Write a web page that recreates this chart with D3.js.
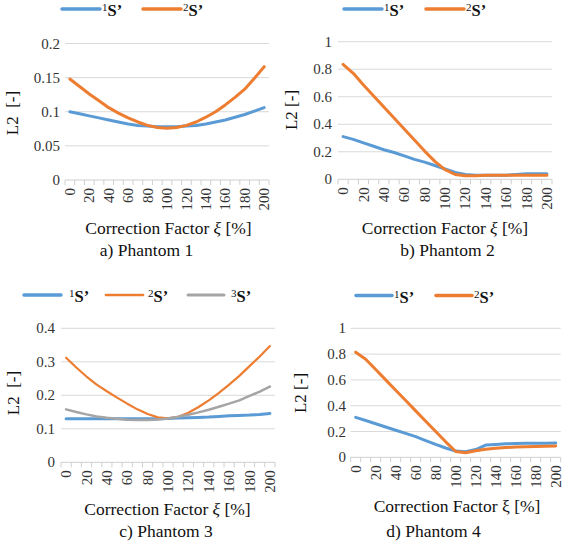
<!DOCTYPE html>
<html><head><meta charset="utf-8">
<script src="https://cdn.jsdelivr.net/npm/d3@7"></script>
<style>
html,body{margin:0;padding:0;background:#fff;}
svg{display:block;}
svg text{font-family:"Liberation Serif","Times New Roman",serif;}
</style></head>
<body>
<svg id="chart" width="568" height="549"></svg>
<script>
// ---- data ----
const xi = [0,10,20,30,40,50,60,70,80,90,100,110,120,130,140,150,160,170,180,190,200];
const xLabels = ["0","20","40","60","80","100","120","140","160","180","200"];

const p1_s1 = [0.100,0.097,0.094,0.091,0.088,0.085,0.082,0.080,0.079,0.078,0.078,0.078,0.079,0.080,0.082,0.085,0.088,0.092,0.096,0.101,0.106];
const p1_s2 = [0.148,0.137,0.126,0.116,0.106,0.098,0.091,0.085,0.080,0.077,0.076,0.077,0.080,0.085,0.092,0.100,0.110,0.121,0.133,0.149,0.166];

const p2_s1 = [0.31,0.29,0.265,0.24,0.215,0.195,0.17,0.145,0.125,0.10,0.075,0.05,0.035,0.03,0.03,0.03,0.03,0.035,0.04,0.04,0.04];
const p2_s2 = [0.835,0.77,0.685,0.605,0.525,0.445,0.365,0.285,0.205,0.13,0.07,0.035,0.025,0.025,0.03,0.03,0.03,0.03,0.03,0.03,0.03];

const p3_s1 = [0.130,0.130,0.130,0.130,0.130,0.130,0.130,0.130,0.130,0.130,0.131,0.132,0.133,0.134,0.135,0.137,0.139,0.140,0.141,0.143,0.146];
const p3_s2 = [0.312,0.283,0.256,0.232,0.212,0.193,0.175,0.158,0.144,0.134,0.131,0.136,0.148,0.165,0.185,0.207,0.232,0.258,0.287,0.316,0.347];
const p3_s3 = [0.158,0.150,0.143,0.137,0.133,0.130,0.127,0.126,0.126,0.128,0.131,0.136,0.142,0.149,0.157,0.166,0.175,0.185,0.198,0.211,0.226];

const p4_s1 = [0.31,0.285,0.26,0.235,0.21,0.185,0.16,0.13,0.10,0.072,0.048,0.043,0.06,0.095,0.10,0.105,0.107,0.108,0.108,0.108,0.11];
const p4_s2 = [0.815,0.76,0.68,0.60,0.52,0.44,0.36,0.28,0.20,0.12,0.045,0.036,0.05,0.062,0.07,0.076,0.08,0.082,0.084,0.086,0.088];

const yTicks1 = [0,0.05,0.1,0.15,0.2];
const yTicks2 = [0,0.2,0.4,0.6,0.8,1];
const yTicks3 = [0,0.1,0.2,0.3,0.4];
const yTicks4 = [0,0.2,0.4,0.6,0.8,1];

const seriesNames = ["1","2","3"];
const colors = ["#5B9BD5","#ED7D31","#A5A5A5"];

// ---- layout ----
const FONT = "'Liberation Serif','Times New Roman',serif";
const panels = [
  {x0:65, x1:269, yb:180, yt:43.5, ymax:0.2, ticks:yTicks1, series:[p1_s1,p1_s2], widths:[3,3],
   tickX:60, ytitle:"L2\u00A0\u00A0[-]", ytx:12, yty:113, xtx:168.5, xty:234, italic:true, cap:"a) Phantom 1", capx:146.5, capy:256,
   leg:{y:9, items:[{x:62,w:38,tx:102},{x:143,w:38,tx:183}]}},
  {x0:338, x1:552, yb:179.3, yt:41.7, ymax:1, ticks:yTicks2, series:[p2_s1,p2_s2], widths:[3,3],
   tickX:332, ytitle:"L2 [-]", ytx:291, yty:110, xtx:445, xty:234, italic:true, cap:"b) Phantom 2", capx:447.5, capy:256,
   leg:{y:9, items:[{x:344,w:38,tx:384},{x:426,w:38,tx:466}]}},
  {x0:61, x1:275, yb:462.3, yt:328.3, ymax:0.4, ticks:yTicks3, series:[p3_s1,p3_s2,p3_s3], widths:[3,2.2,2.5],
   tickX:55, ytitle:"L2\u00A0\u00A0[-]", ytx:13, yty:393, xtx:167.5, xty:515, italic:true, cap:"c) Phantom 3", capx:166, capy:537,
   leg:{y:295, items:[{x:24,w:37,tx:69},{x:106,w:37,tx:148},{x:188,w:36,tx:231}]}},
  {x0:350.7, x1:560.7, yb:457.3, yt:328.3, ymax:1, ticks:yTicks4, series:[p4_s1,p4_s2], widths:[3,3],
   tickX:346, ytitle:"L2 [-]", ytx:300, yty:393, xtx:457, xty:512, italic:false, cap:"d) Phantom 4", capx:433.5, capy:537,
   leg:{y:295.5, items:[{x:356,w:36,tx:394},{x:436,w:36,tx:474}]}}
];

const svg = d3.select("#chart");

panels.forEach(p => {
  const g = svg.append("g").attr("font-family", FONT);
  const x = d3.scaleBand().domain(xi).range([p.x0, p.x1]).padding(0);
  const y = d3.scaleLinear().domain([0, p.ymax]).range([p.yb, p.yt]);

  // gridlines
  g.selectAll("line.grid").data(p.ticks.filter(t => t > 0)).enter().append("line")
    .attr("x1", p.x0).attr("x2", p.x1).attr("y1", d => y(d)).attr("y2", d => y(d))
    .attr("stroke", "#d9d9d9").attr("stroke-width", 1);

  // x baseline + ticks
  g.append("line").attr("x1", p.x0).attr("x2", p.x1).attr("y1", y(0)).attr("y2", y(0))
    .attr("stroke", "#cfcfcf").attr("stroke-width", 1);
  const bounds = xi.map(d => x(d)).concat([p.x1]);
  g.selectAll("line.tk").data(bounds).enter().append("line")
    .attr("x1", d => d).attr("x2", d => d).attr("y1", y(0)).attr("y2", y(0) + 5)
    .attr("stroke", "#cfcfcf").attr("stroke-width", 1);

  // y tick labels
  g.selectAll("text.yt").data(p.ticks).enter().append("text")
    .attr("font-family", FONT)
    .attr("x", p.tickX).attr("y", d => y(d) + 5)
    .attr("text-anchor", "end").attr("font-size", 15).attr("fill", "#333")
    .text(d => String(d));

  // x tick labels (rotated)
  g.selectAll("text.xt").data(xLabels).enter().append("text")
    .attr("font-family", FONT)
    .attr("transform", d => `translate(${x(+d) + x.bandwidth()/2},${y(0) + 8}) rotate(-90)`)
    .attr("text-anchor", "end").attr("dy", "0.34em").attr("font-size", 15).attr("fill", "#333")
    .text(d => d);

  // lines
  const line = d3.line().x((d, i) => x(xi[i]) + x.bandwidth()/2).y(d => y(d)).curve(d3.curveLinear);
  p.series.forEach((s, k) => {
    g.append("path").datum(s).attr("d", line).attr("fill", "none")
      .attr("stroke", colors[k]).attr("stroke-width", p.widths[k])
      .attr("stroke-linejoin", "round").attr("stroke-linecap", "round");
  });

  // y title
  g.append("text").attr("font-family", FONT)
    .attr("transform", `translate(${p.ytx},${p.yty}) rotate(-90)`)
    .attr("text-anchor", "middle").attr("dy", "0.35em").attr("font-size", 17).attr("fill", "#111")
    .text(p.ytitle);

  // x title
  const xt = g.append("text").attr("font-family", FONT).attr("x", p.xtx).attr("y", p.xty).attr("text-anchor", "middle")
    .attr("font-size", 17.5).attr("fill", "#111");
  xt.append("tspan").text("Correction Factor ");
  xt.append("tspan").attr("font-style", p.italic ? "italic" : "normal").text("ξ");
  xt.append("tspan").text(" [%]");

  // caption
  g.append("text").attr("font-family", FONT).attr("x", p.capx).attr("y", p.capy).attr("text-anchor", "middle")
    .attr("font-size", 17.5).attr("fill", "#111").text(p.cap);

  // legend
  p.leg.items.forEach((it, k) => {
    g.append("line").attr("x1", it.x).attr("x2", it.x + it.w).attr("y1", p.leg.y).attr("y2", p.leg.y)
      .attr("stroke", colors[k]).attr("stroke-width", p.widths[k] + 0.5).attr("stroke-linecap", "round");
    const t = g.append("text").attr("font-family", FONT).attr("x", it.tx).attr("y", p.leg.y + 7).attr("fill", "#111");
    t.append("tspan").attr("font-size", 11).attr("dy", -5).text(seriesNames[k]);
    t.append("tspan").attr("font-size", 16.5).attr("font-weight", "bold").attr("dy", 5).text("S’");
  });
});
</script>
</body></html>
